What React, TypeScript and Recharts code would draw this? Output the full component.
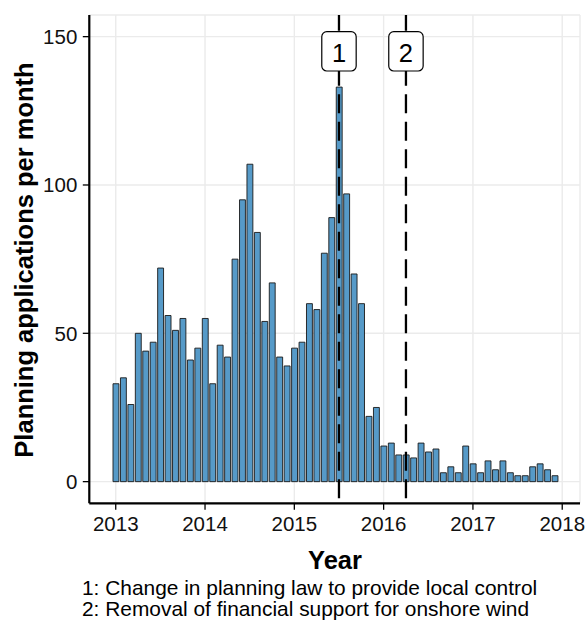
import React from 'react';
import { BarChart, Bar, XAxis, YAxis, CartesianGrid, ReferenceLine } from 'recharts';

// Monthly counts, Jan 2013 .. Dec 2017
const years = [2013, 2014, 2015, 2016, 2017];
const months = [0, 1, 2, 3, 4, 5, 6, 7, 8, 9, 10, 11];
const counts2013 = [33, 35, 26, 50, 44, 47, 72, 56, 51, 55, 41, 45];
const counts2014 = [55, 33, 46, 42, 75, 95, 107, 84, 54, 67, 42, 39];
const counts2015 = [45, 47, 60, 58, 77, 89, 133, 97, 70, 60, 22, 25];
const counts2016 = [12, 13, 9, 9, 8, 13, 10, 11, 3, 5, 3, 12];
const counts2017 = [6, 3, 7, 4, 7, 3, 2, 2, 5, 6, 4, 2];
const countsByYear = [counts2013, counts2014, counts2015, counts2016, counts2017];

const xTicks = [2013, 2014, 2015, 2016, 2017, 2018];
const yTicks = [0, 50, 100, 150];

const eventLabels = ['1', '2'];
const eventDates = [2015.5, 2016.25]; // Jul 2015, Apr 2016
const captionLines = [
  '1: Change in planning law to provide local control',
  '2: Removal of financial support for onshore wind',
];

const data = years.flatMap((y, yi) =>
  months.map((m) => ({ t: y + m / 12, count: countsByYear[yi][m] }))
);

const FONT = '"Liberation Sans", Arial, Helvetica, sans-serif';

const makeBoxLabel = (text: string) => (props: any) => {
  const vb = props.viewBox || {};
  const cx = vb.x;
  const top = vb.y;
  return (
    <g>
      <rect x={cx - 17.2} y={top + 16.7} width={34.4} height={39.3} rx={5} ry={5} fill="#fff" stroke="#000" strokeWidth={1.2} />
      <text x={cx} y={top + 46.5} textAnchor="middle" fontSize={25.5} fontFamily={FONT} fill="#000">{text}</text>
    </g>
  );
};

export default function App() {
  return (
    <div style={{ position: 'absolute', left: 0, top: 0, width: 585, height: 621, background: '#fff' }}>
      <BarChart
        width={585}
        height={621}
        data={data}
        margin={{ top: 15, right: 5, left: 0, bottom: 87.7 }}
        barCategoryGap={0}
      >
        <CartesianGrid stroke="#ebebeb" strokeWidth={1.4} />
        <XAxis
          type="number"
          dataKey="t"
          domain={[2012.704, 2018.199]}
          allowDataOverflow
          ticks={xTicks}
          interval={0}
          height={30}
          tickSize={6.5}
          tickMargin={7}
          axisLine={{ stroke: '#000', strokeWidth: 2.2 }}
          tickLine={{ stroke: '#000', strokeWidth: 1.3 }}
          tick={{ fill: '#111', fontSize: 20.5, fontFamily: FONT }}
        />
        <YAxis
          type="number"
          domain={[-7.3, 157.3]}
          allowDataOverflow
          ticks={yTicks}
          interval={0}
          width={89.3}
          tickSize={6.5}
          tickMargin={5.5}
          axisLine={{ stroke: '#000', strokeWidth: 2.2 }}
          tickLine={{ stroke: '#000', strokeWidth: 1.3 }}
          tick={{ fill: '#111', fontSize: 20.5, fontFamily: FONT }}
        />
        <Bar dataKey="count" fill="#569AC8" stroke="#1a1a1a" strokeWidth={0.9} barSize={5.9} isAnimationActive={false} />
        {eventDates.map((d, i) => (
          <ReferenceLine
            key={i}
            x={d}
            stroke="#000"
            strokeWidth={2.3}
            strokeDasharray="19 8.5"
            strokeDashoffset={22.5}
            label={makeBoxLabel(eventLabels[i])}
          />
        ))}
      </BarChart>
      <svg width={585} height={621} style={{ position: 'absolute', left: 0, top: 0, pointerEvents: 'none' }}>
        <text x={33} y={260} transform="rotate(-90 33 260)" textAnchor="middle" fontSize={25.5} fontWeight="bold" fontFamily={FONT} fill="#000">
          Planning applications per month
        </text>
        <text x={335} y={569} textAnchor="middle" fontSize={25.5} fontWeight="bold" fontFamily={FONT} fill="#000">
          Year
        </text>
        {captionLines.map((line, i) => (
          <text key={i} x={82} y={595 + i * 21} fontSize={20.9} fontFamily={FONT} fill="#000">
            {line}
          </text>
        ))}
      </svg>
    </div>
  );
}
